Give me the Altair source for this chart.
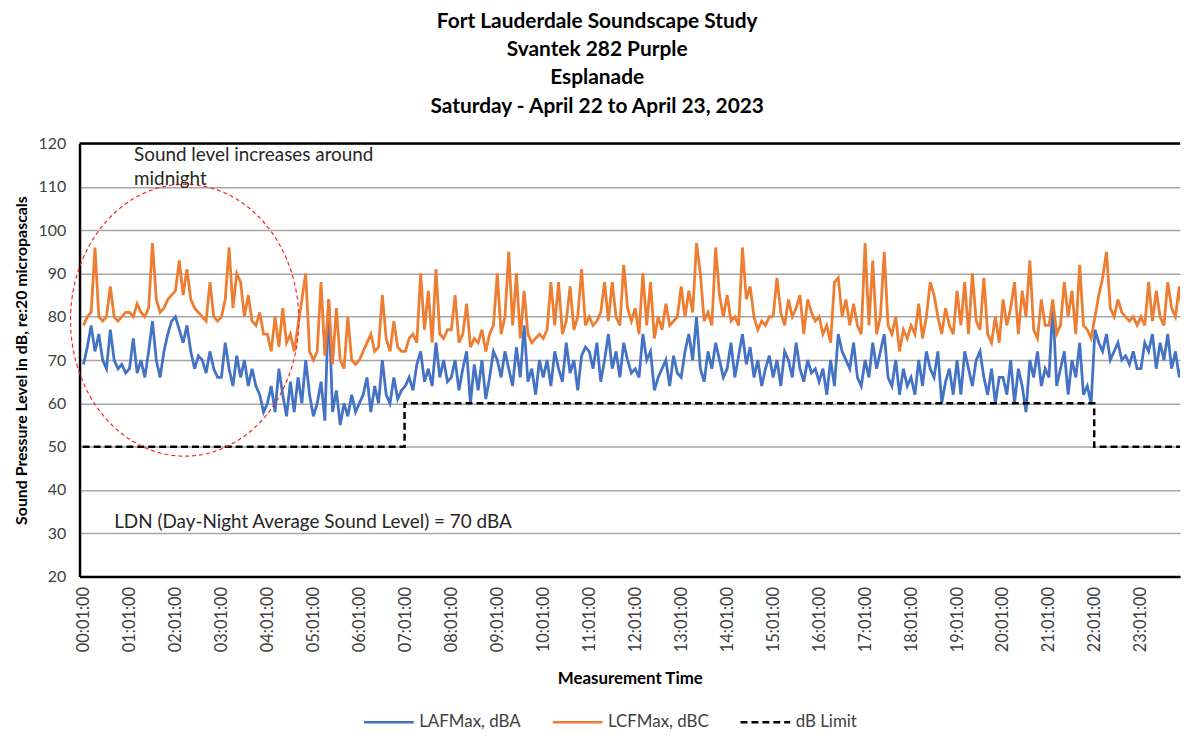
import json
import math
import altair as alt
import pandas as pd

FONT = "Lato"

TITLE_LINES = [
    "Fort Lauderdale Soundscape Study",
    "Svantek 282 Purple",
    "Esplanade",
    "Saturday - April 22 to April 23, 2023",
]
SERIES = ["LAFMax, dBA", "LCFMax, dBC", "dB Limit"]
COLORS = ["#4472C4", "#ED7D31", "#000000"]
TICK_LABELS = [
    "00:01:00", "01:01:00", "02:01:00", "03:01:00", "04:01:00", "05:01:00",
    "06:01:00", "07:01:00", "08:01:00", "09:01:00", "10:01:00", "11:01:00",
    "12:01:00", "13:01:00", "14:01:00", "15:01:00", "16:01:00", "17:01:00",
    "18:01:00", "19:01:00", "20:01:00", "21:01:00", "22:01:00", "23:01:00",
]
Y_TICKS = [20, 30, 40, 50, 60, 70, 80, 90, 100, 110, 120]

# samples every 5 minutes starting 00:01
START_MINUTE = 1
STEP_MINUTES = 5

LAFMAX = [
    69, 73, 78, 72, 76, 70, 68, 77, 70, 68, 69, 67,
    68, 75, 67, 70, 66, 72, 79, 70, 66, 72, 76, 79,
    80, 77, 74, 78, 72, 68, 71, 70, 67, 72, 68, 66,
    66, 74, 68, 64, 71, 66, 70, 64, 68, 64, 62, 58,
    60, 64, 58, 68, 62, 57, 65, 58, 66, 60, 70, 62,
    57, 60, 65, 56, 84, 58, 63, 55, 60, 57, 62, 58,
    60, 62, 66, 58, 64, 60, 70, 62, 60, 66, 61, 63,
    64, 66, 63, 69, 72, 65, 68, 64, 74, 66, 70, 65,
    66, 70, 63, 68, 72, 60, 69, 63, 70, 61, 66, 72,
    70, 66, 72, 68, 64, 73, 66, 78, 65, 68, 62, 70,
    66, 70, 64, 72, 68, 65, 74, 67, 70, 63, 71, 73,
    72, 68, 74, 65, 70, 76, 68, 72, 66, 74, 70, 67,
    68, 66, 76, 70, 72, 63, 66, 68, 70, 64, 71, 67,
    66, 72, 76, 70, 80, 68, 65, 72, 68, 74, 70, 66,
    68, 74, 66, 71, 76, 69, 73, 66, 70, 64, 68, 71,
    66, 70, 64, 72, 70, 66, 74, 68, 65, 70, 67, 68,
    65, 68, 62, 70, 64, 76, 72, 70, 68, 74, 66, 64,
    70, 66, 74, 68, 72, 76, 66, 64, 70, 62, 68, 64,
    66, 62, 70, 64, 72, 68, 66, 72, 60, 65, 68, 62,
    70, 62, 72, 68, 64, 70, 72, 66, 62, 68, 60, 66,
    66, 62, 70, 60, 68, 64, 58, 70, 66, 72, 64, 68,
    66, 83, 64, 68, 72, 62, 70, 66, 74, 62, 64, 60,
    77, 74, 72, 76, 70, 72, 74, 70, 71, 69, 72, 68,
    68, 74, 72, 76, 68, 74, 70, 76, 68, 72, 66, 70,
]

LCFMAX = [
    78, 80, 81, 96, 80, 79, 80, 87, 80, 79, 80, 81,
    81, 80, 83, 81, 80, 82, 97, 84, 81, 82, 84, 85,
    86, 93, 85, 91, 84, 82, 81, 80, 79, 88, 80, 79,
    80, 84, 96, 82, 90, 88, 80, 85, 79, 78, 81, 76,
    76, 72, 80, 73, 82, 74, 76, 72, 78, 84, 90, 72,
    70, 72, 88, 71, 84, 69, 82, 70, 68, 80, 70, 69,
    70, 72, 74, 76, 72, 73, 85, 75, 72, 79, 73, 72,
    72, 75, 76, 74, 90, 77, 86, 74, 91, 76, 75, 77,
    77, 85, 74, 76, 83, 73, 75, 74, 77, 72, 76, 78,
    90, 76, 80, 95, 78, 90, 75, 86, 76, 74, 75, 76,
    75, 77, 88, 78, 88, 76, 79, 87, 77, 80, 91, 78,
    80, 78, 79, 81, 88, 79, 88, 80, 78, 92, 82, 79,
    82, 76, 90, 78, 88, 75, 80, 77, 83, 78, 79, 80,
    87, 80, 86, 81, 97, 90, 79, 81, 78, 96, 85, 80,
    85, 79, 80, 78, 96, 84, 87, 80, 77, 79, 78, 80,
    80, 89, 81, 78, 84, 80, 82, 85, 76, 84, 81, 79,
    80, 76, 78, 74, 88, 89, 80, 84, 78, 83, 78, 76,
    97, 78, 93, 76, 80, 95, 78, 76, 80, 72, 77, 75,
    78, 76, 83, 75, 80, 88, 85, 80, 76, 82, 78, 76,
    86, 78, 88, 76, 90, 79, 77, 89, 76, 74, 80, 74,
    84, 78, 82, 88, 76, 86, 80, 93, 77, 75, 84, 78,
    78, 84, 76, 78, 88, 80, 86, 76, 92, 78, 77, 75,
    80, 85, 89, 95, 82, 80, 84, 81, 80, 79, 80, 78,
    80, 78, 88, 79, 86, 80, 78, 88, 82, 80, 87, 79,
]

LIMIT_MINUTES = [0, 420, 1320, 1440]
LIMIT_VALUES = [50, 60, 50, 50]

# annotation (ellipse in data units: centre minute/value, radii)
ELLIPSE_CENTER = (133, 79.2)
ELLIPSE_RADII = (149, 31.4)
NOTE_1 = ["Sound level increases around", "midnight"]
NOTE_1_POS = (67, 119.4)
NOTE_2 = "LDN (Day-Night Average Sound Level) = 70 dBA"
NOTE_2_POS = (41, 32.6)

minutes = [START_MINUTE + STEP_MINUTES * i for i in range(len(LAFMAX))]
laf_df = pd.DataFrame({"minute": minutes, "value": LAFMAX, "series": SERIES[0]})
lcf_df = pd.DataFrame({"minute": minutes, "value": LCFMAX, "series": SERIES[1]})
lim_df = pd.DataFrame({"minute": LIMIT_MINUTES, "value": LIMIT_VALUES, "series": SERIES[2]})

n_ell = 120
ell_df = pd.DataFrame({
    "idx": list(range(n_ell + 1)),
    "minute": [ELLIPSE_CENTER[0] + ELLIPSE_RADII[0] * math.cos(2 * math.pi * k / n_ell) for k in range(n_ell + 1)],
    "value": [ELLIPSE_CENTER[1] + ELLIPSE_RADII[1] * math.sin(2 * math.pi * k / n_ell) for k in range(n_ell + 1)],
})

label_expr = json.dumps(TICK_LABELS).replace('"', "'") + "[round((datum.value - 1) / 60)]"

x_enc = alt.X(
    "minute:Q",
    scale=alt.Scale(domain=[-4.2, 1432], nice=False, zero=False),
    axis=alt.Axis(
        values=[1 + 60 * h for h in range(24)],
        labelExpr=label_expr,
        labelAngle=270,
        title="Measurement Time",
        grid=False,
        ticks=False,
        domainColor="black",
        domainWidth=2.5,
        labelFont=FONT,
        labelFontSize=16.5,
        labelColor="#404040",
        labelPadding=10,
        titleFont=FONT,
        titleFontSize=17,
        titleFontWeight="bold",
        titleColor="black",
        titlePadding=19,
    ),
)
y_enc = alt.Y(
    "value:Q",
    scale=alt.Scale(domain=[20, 120], nice=False, zero=False),
    axis=alt.Axis(
        values=Y_TICKS,
        title="Sound Pressure Level in dB, re:20 micropascals",
        grid=True,
        gridColor="#a6a6a6",
        gridWidth=1.5,
        ticks=False,
        domainColor="black",
        domainWidth=2.5,
        labelFont=FONT,
        labelFontSize=16,
        labelColor="#404040",
        labelPadding=14,
        titleFont=FONT,
        titleFontSize=16,
        titleFontWeight="bold",
        titleColor="black",
        titlePadding=9,
    ),
)
color_enc = alt.Color("series:N", scale=alt.Scale(domain=SERIES, range=COLORS), title=None)
dash_enc = alt.StrokeDash(
    "series:N",
    scale=alt.Scale(domain=SERIES, range=[[1, 0], [1, 0], [7, 4]]),
    title=None,
)

laf = alt.Chart(laf_df).mark_line(strokeWidth=2.8, clip=True).encode(
    x=x_enc, y=y_enc, color=color_enc, strokeDash=dash_enc
)
lcf = alt.Chart(lcf_df).mark_line(strokeWidth=2.8, clip=True).encode(
    x=x_enc, y=y_enc, color=color_enc, strokeDash=dash_enc
)
lim = alt.Chart(lim_df).mark_line(strokeWidth=2.5, interpolate="step-after", clip=True).encode(
    x=x_enc, y=y_enc, color=color_enc, strokeDash=dash_enc
)
ellipse = alt.Chart(ell_df).mark_line(
    color="#ff2020", strokeWidth=1.2, strokeDash=[4, 3], clip=False
).encode(x=x_enc, y=y_enc, order="idx:Q")

note1 = alt.Chart(pd.DataFrame({"minute": [NOTE_1_POS[0]], "value": [NOTE_1_POS[1]], "t": [NOTE_1]})).mark_text(
    align="left", baseline="top", font=FONT, fontSize=19, color="#262626", lineHeight=24
).encode(x=x_enc, y=y_enc, text="t")
note2 = alt.Chart(pd.DataFrame({"minute": [NOTE_2_POS[0]], "value": [NOTE_2_POS[1]], "t": [NOTE_2]})).mark_text(
    align="left", baseline="middle", font=FONT, fontSize=19, color="#262626"
).encode(x=x_enc, y=y_enc, text="t")

top_rule = alt.Chart(pd.DataFrame({"value": [120]})).mark_rule(color="black", strokeWidth=2.5).encode(y=y_enc)

chart = alt.layer(laf, lcf, lim, ellipse, note1, note2, top_rule).properties(
    width=1108,
    height=436,
    padding={"left": 72, "top": 134, "right": 4, "bottom": 152},
    autosize="none",
    title=alt.TitleParams(
        text=TITLE_LINES,
        font=FONT,
        fontSize=21,
        fontWeight="bold",
        color="black",
        anchor="middle",
        frame="bounds",
        lineHeight=28.5,
        offset=19,
    ),
).configure_view(stroke=None).configure_legend(
    orient="none",
    legendX=285,
    legendY=556,
    direction="horizontal",
    columns=3,
    columnPadding=26,
    symbolType="stroke",
    symbolSize=2500,
    symbolStrokeWidth=2.5,
    labelFont=FONT,
    labelFontSize=17,
    labelColor="#404040",
    labelOffset=4,
)

chart.save("out.html", embed_options={"renderer": "svg", "actions": False})
